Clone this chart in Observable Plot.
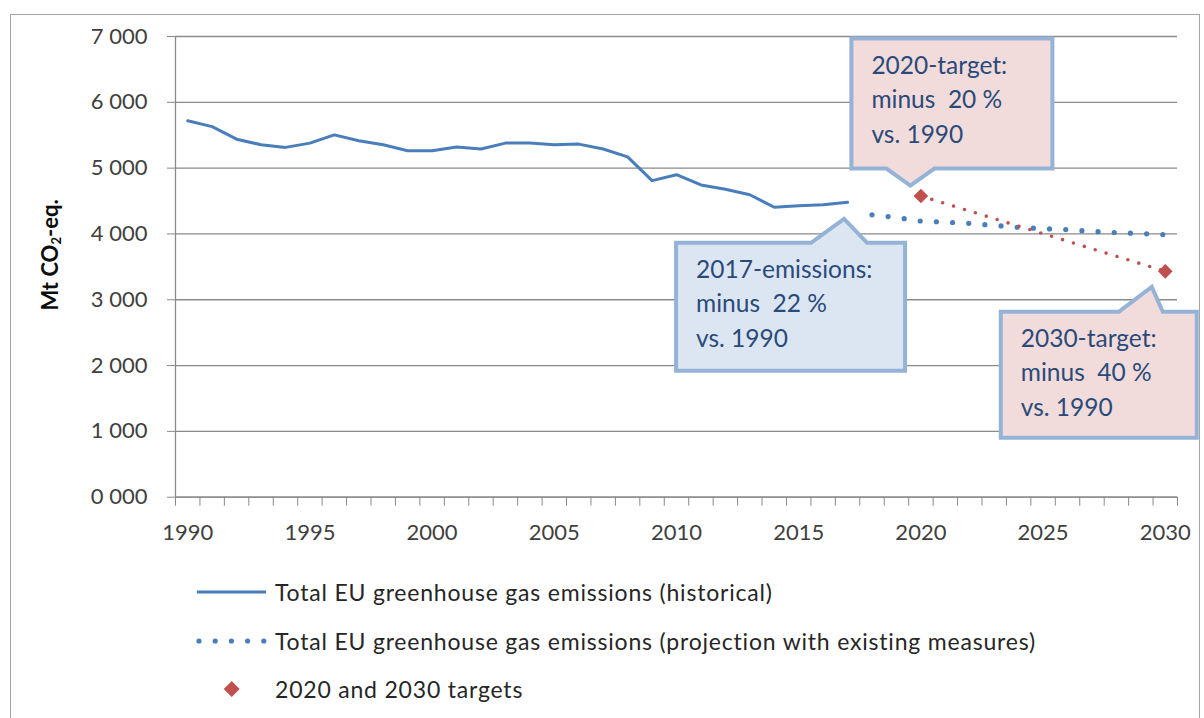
<!DOCTYPE html>
<html><head><meta charset="utf-8">
<script src="https://cdn.jsdelivr.net/npm/d3@7"></script>
<script src="https://cdn.jsdelivr.net/npm/@observablehq/plot@0.6"></script>
<style>
html,body{margin:0;padding:0;background:#fff;}
body{width:1204px;height:718px;position:relative;overflow:hidden;font-family:Lato,"DejaVu Sans",sans-serif;}
#frame{position:absolute;left:10px;top:14px;width:1190px;height:760px;border:1px solid #a6a6a6;box-sizing:border-box;}
#chart{position:absolute;left:0;top:0;}
#ytitle{position:absolute;left:50px;top:255px;transform:translate(-50%,-50%) rotate(-90deg);font-weight:bold;font-size:22px;color:#0d0d0d;white-space:nowrap;}
#ytitle sub{font-size:13px;vertical-align:-3px;}
.lrow{position:absolute;left:190px;height:30px;display:flex;align-items:center;font-size:23px;letter-spacing:0.8px;color:#262626;white-space:nowrap;}
.lrow svg{margin-right:5px;}
</style></head><body>
<div id="frame"></div>
<div id="chart"></div>
<div id="ytitle">Mt CO<sub>2</sub>-eq.</div>
<div id="legend"></div>
<script>
// ---- data ----
const histYears = d3.range(1990, 2018);
const histValues = [5720,5630,5440,5355,5315,5380,5505,5415,5355,5265,5265,5320,5290,5380,5380,5355,5365,5290,5170,4810,4900,4745,4680,4595,4405,4430,4445,4480];
const projYears = d3.range(2018, 2031);
const projValues = [4290,4250,4195,4180,4160,4130,4100,4080,4065,4040,4020,4005,3990];
const targetYears = [2020, 2030];
const targetValues = [4576, 3432];
const yTicks = [0,1000,2000,3000,4000,5000,6000,7000];
const xTickLabels = [1990,1995,2000,2005,2010,2015,2020,2025,2030];
const seriesLabels = [
  "Total EU greenhouse gas emissions (historical)",
  "Total EU greenhouse gas emissions (projection with existing measures)",
  "2020 and 2030 targets"
];
const calloutTexts = [
  ["2020-target:", "minus  20 %", "vs. 1990"],
  ["2017-emissions:", "minus  22 %", "vs. 1990"],
  ["2030-target:", "minus  40 %", "vs. 1990"]
];

const hist = histYears.map((y,i)=>({year:y, value:histValues[i]}));
const proj = projYears.map((y,i)=>({year:y, value:projValues[i]}));
const targets = targetYears.map((y,i)=>({year:y, value:targetValues[i]}));

const BLUE = "#4a7ebb", RED = "#c0504d", GRID = "#8a8a8a";
const diamond = {draw(ctx, size){ const r = Math.sqrt(size)*0.62625; ctx.moveTo(0,-r); ctx.lineTo(r,0); ctx.lineTo(0,r); ctx.lineTo(-r,0); ctx.closePath(); }};
const fmtY = d => { const s = String(d).padStart(4,"0"); return s[0] + " " + s.slice(1); };

// callout geometry (pixel offsets relative to the anchor point)
const calloutAnchors = [
  {pt: targets[0], dx:-10, dy:-10, L:-59, R:142, T:-147, B:-17, b1:-24, b2:24, side:"bottom", fill:"#f2dcdb"},
  {pt: hist[hist.length-1], dx:-3, dy:17, L:-168, R:61, T:24, B:152, b1:-33, b2:23, side:"top", fill:"#dce6f2"},
  {pt: targets[1], dx:-13, dy:16, L:-151, R:45, T:25, B:151, b1:-33, b2:11, side:"top", fill:"#f2dcdb"}
];

function calloutMark(index, scales) {
  const g = d3.create("svg:g");
  calloutAnchors.forEach((c, k) => {
    const tx = scales.x(c.pt.year) + c.dx, ty = scales.y(c.pt.value) + c.dy;
    const L = tx + c.L, R = tx + c.R, T = ty + c.T, B = ty + c.B;
    let d;
    if (c.side === "bottom") d = `M${L},${T}H${R}V${B}H${tx+c.b2}L${tx},${ty}L${tx+c.b1},${B}H${L}Z`;
    else d = `M${L},${T}H${tx+c.b1}L${tx},${ty}L${tx+c.b2},${T}H${R}V${B}H${L}Z`;
    g.append("path").attr("d", d).attr("fill", c.fill).attr("stroke", "#95b3d7").attr("stroke-width", 4).attr("stroke-linejoin","miter");
    const t = g.append("text").attr("font-family","Lato, sans-serif").attr("font-size", 24.5)
      .attr("text-anchor", "start").attr("fill", "#2a4a7a").style("white-space","pre");
    calloutTexts[k].forEach((line, i) => {
      t.append("tspan").attr("x", L + 20).attr("y", T + 35 + i*34.5).text(line);
    });
  });
  return g.node();
}

const plot = Plot.plot({
  width: 1204,
  height: 560,
  marginLeft: 175,
  marginRight: 27,
  marginTop: 36,
  marginBottom: 63.3,
  style: {fontFamily: "Lato, sans-serif", fontSize: "22px", background: "transparent", overflow: "visible"},
  x: {type: "linear", domain: [1989.5, 2030.5]},
  y: {domain: [0, 7000]},
  marks: [
    Plot.gridY(yTicks, {stroke: GRID, strokeOpacity: 1, strokeWidth: 1.3}),
    Plot.axisY(yTicks, {tickSize: 8, tickPadding: 20, tickFormat: fmtY, stroke: GRID, fill: "#404040", fontSize: 22, label: null}),
    Plot.axisX(d3.range(1989.5, 2031, 1), {tickSize: 9, tickFormat: () => "", stroke: GRID, label: null}),
    Plot.axisX(xTickLabels, {tickSize: 0, tickPadding: 27, fill: "#404040", fontSize: 22, tickFormat: d => String(d), label: null}),
    Plot.ruleX([1989.5], {y1: 0, y2: 7000, stroke: GRID, strokeWidth: 1.3}),
    Plot.ruleY([0], {stroke: GRID, strokeWidth: 1.3}),
    Plot.line(hist, {x: "year", y: "value", stroke: BLUE, strokeWidth: 3, strokeLinejoin: "round"}),
    Plot.line(proj, {x: "year", y: "value", stroke: BLUE, strokeWidth: 5.2, strokeDasharray: "0 16.2", strokeLinecap: "round"}),
    Plot.line(targets, {x: "year", y: "value", stroke: RED, strokeWidth: 3.6, strokeDasharray: "0 11.4", strokeLinecap: "round"}),
    Plot.dot(targets, {x: "year", y: "value", symbol: diamond, r: 6.6, fill: RED, stroke: "none"}),
    calloutMark
  ]
});
document.getElementById("chart").appendChild(plot);

// legend
const legend = document.getElementById("legend");
const rows = [
  {y: 592, svg: `<svg width="80" height="14"><line x1="7" x2="76" y1="7" y2="7" stroke="${BLUE}" stroke-width="3"/></svg>`},
  {y: 641, svg: `<svg width="80" height="14"><line x1="9" x2="75" y1="7" y2="7" stroke="${BLUE}" stroke-width="5.2" stroke-dasharray="0 16.2" stroke-linecap="round"/></svg>`},
  {y: 689, svg: `<svg width="80" height="20"><path d="M41.7,2L49.7,10L41.7,18L33.7,10Z" fill="${RED}"/></svg>`}
];
rows.forEach((r, i) => {
  const div = document.createElement("div");
  div.className = "lrow";
  div.style.top = (r.y - 15) + "px";
  div.innerHTML = r.svg + `<span>${seriesLabels[i]}</span>`;
  legend.appendChild(div);
});
</script>
</body></html>
